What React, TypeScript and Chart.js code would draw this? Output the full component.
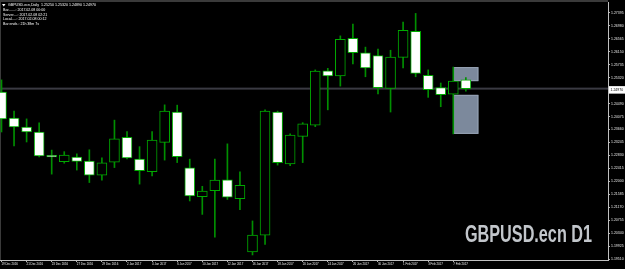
import React, { useEffect, useRef } from "react";
import { Chart, registerables } from "chart.js";

Chart.register(...registerables);

// ---- data (daily bars, GBPUSD.ecn D1) ----
const dates = [
  "19 Dec 2016", "20 Dec 2016", "21 Dec 2016", "22 Dec 2016", "23 Dec 2016",
  "26 Dec 2016", "27 Dec 2016", "28 Dec 2016", "29 Dec 2016", "30 Dec 2016",
  "2 Jan 2017", "3 Jan 2017", "4 Jan 2017", "5 Jan 2017", "6 Jan 2017",
  "9 Jan 2017", "10 Jan 2017", "11 Jan 2017", "12 Jan 2017", "13 Jan 2017",
  "16 Jan 2017", "17 Jan 2017", "18 Jan 2017", "19 Jan 2017", "20 Jan 2017",
  "23 Jan 2017", "24 Jan 2017", "25 Jan 2017", "26 Jan 2017", "27 Jan 2017",
  "30 Jan 2017", "31 Jan 2017", "1 Feb 2017", "2 Feb 2017", "3 Feb 2017",
  "6 Feb 2017", "7 Feb 2017", "8 Feb 2017",
];
const opens = [
  1.2486, 1.2403, 1.2374, 1.2358, 1.2283, 1.2263, 1.2278, 1.2265, 1.2220, 1.2261,
  1.2341, 1.2271, 1.2231, 1.2325, 1.2422, 1.2243, 1.2151, 1.2170, 1.2205, 1.2144,
  1.1974, 1.2027, 1.2422, 1.2256, 1.2344, 1.2380, 1.2554, 1.2538, 1.2658, 1.2612,
  1.2603, 1.2498, 1.2597, 1.2681, 1.2540, 1.2500, 1.2479, 1.2525,
];
const highs = [
  1.2525, 1.2425, 1.2400, 1.2387, 1.2300, 1.2295, 1.2288, 1.2301, 1.2275, 1.2396,
  1.2359, 1.2311, 1.2359, 1.2445, 1.2444, 1.2271, 1.2184, 1.2271, 1.2320, 1.2230,
  1.2073, 1.2429, 1.2425, 1.2352, 1.2388, 1.2557, 1.2562, 1.2666, 1.2704, 1.2630,
  1.2624, 1.2620, 1.2710, 1.2738, 1.2557, 1.2515, 1.2566, 1.2532,
];
const lows = [
  1.2358, 1.2313, 1.2326, 1.2278, 1.2223, 1.2258, 1.2236, 1.2196, 1.2204, 1.2244,
  1.2272, 1.2191, 1.2217, 1.2268, 1.2260, 1.2137, 1.2094, 1.2021, 1.2142, 1.2109,
  1.1964, 1.1998, 1.2252, 1.2250, 1.2260, 1.2375, 1.2429, 1.2505, 1.2576, 1.2535,
  1.2480, 1.2422, 1.2563, 1.2535, 1.2469, 1.2439, 1.2352, 1.2489,
];
const closes = [
  1.2400, 1.2374, 1.2358, 1.2281, 1.2278, 1.2284, 1.2264, 1.2220, 1.2259, 1.2336,
  1.2275, 1.2234, 1.2332, 1.2425, 1.2279, 1.2153, 1.2169, 1.2204, 1.2149, 1.2187,
  1.2028, 1.2425, 1.2260, 1.2348, 1.2384, 1.2553, 1.2538, 1.2655, 1.2612, 1.2563,
  1.2500, 1.2598, 1.2684, 1.2546, 1.2494, 1.2478, 1.2521, 1.2497,
];
const priceTicks = [
  1.1951, 1.19925, 1.2034, 1.20755, 1.2117, 1.21585, 1.22, 1.22415, 1.2283, 1.23245,
  1.2366, 1.24075, 1.2449, 1.24905, 1.2532, 1.25735, 1.2615, 1.26565, 1.2698, 1.27395,
];
const dateTickIndex = [0, 2, 4, 6, 8, 10, 12, 14, 16, 18, 20, 22, 24, 26, 28, 30, 32, 34, 36];
const currentPrice = 1.2497;
const currentPriceLabel = "1.24970";
const zoneStart = [36, 36];
const zoneEnd = [38, 38];
const zoneHigh = [1.2566, 1.2477];
const zoneLow = [1.2521, 1.2352];
const headerLines = [
  "GBPUSD.ecn,Daily  1.25250 1.25320 1.24890 1.24970",
  "Bar.......: 2017.02.08 00:00",
  "Server....: 2017.02.08 02:21",
  "Local.....: 2017.02.08 00:12",
  "Bar ends.: 21h 38m 7s",
];
const watermark = "GBPUSD.ecn D1";
const yMin = 1.19478;
const yMax = 1.27746;
const xMin = -0.1195;
const xMax = 48.327;

export default function App() {
  const ref = useRef<HTMLCanvasElement>(null);

  useEffect(() => {
    const canvas = ref.current;
    if (!canvas) return;
    const idx = dates.map((_, i) => i);

    const overlay = {
      id: "mt4overlay",
      beforeDraw(chart: any) {
        const { ctx, chartArea } = chart;
        ctx.save();
        ctx.fillStyle = "#000000";
        ctx.fillRect(0, 0, chart.width, chart.height);
        ctx.fillStyle = "#3a3a3a";
        ctx.fillRect(0, 0, chartArea.right, 2);
        ctx.restore();
      },
      beforeDatasetsDraw(chart: any) {
        const { ctx, chartArea, scales } = chart;
        const xs = scales.x;
        const ys = scales.y;
        ctx.save();
        ctx.fillStyle = "#3a3a3a";
        ctx.fillRect(0, chartArea.top, 1, chartArea.bottom - chartArea.top);
        const py = ys.getPixelForValue(currentPrice);
        ctx.fillStyle = "#3a3a42";
        ctx.fillRect(0, py - 1, chartArea.right, 2);
        for (let k = 0; k < zoneStart.length; k++) {
          const x0 = xs.getPixelForValue(zoneStart[k]);
          const x1 = xs.getPixelForValue(zoneEnd[k]);
          const y0 = ys.getPixelForValue(zoneHigh[k]);
          const y1 = ys.getPixelForValue(zoneLow[k]);
          ctx.fillStyle = "rgb(124,137,156)";
          ctx.fillRect(x0, y0, x1 - x0, y1 - y0);
          ctx.strokeStyle = "rgb(150,162,180)";
          ctx.lineWidth = 1;
          ctx.strokeRect(x0 + 0.5, y0 + 0.5, x1 - x0 - 1, y1 - y0 - 1);
        }
        ctx.font = 'bold 24px "Liberation Sans", Arial, sans-serif';
        const w = ctx.measureText(watermark).width;
        const right = chartArea.right - 16;
        const targetW = 127;
        ctx.translate(right - targetW, chartArea.bottom - 18);
        ctx.scale(targetW / w, 1);
        ctx.fillStyle = "#c2c6cb";
        ctx.textBaseline = "alphabetic";
        ctx.fillText(watermark, 0, 0);
        ctx.restore();
      },
      afterDraw(chart: any) {
        const { ctx, chartArea, scales } = chart;
        const ys = scales.y;
        ctx.save();
        ctx.fillStyle = "#ffffff";
        ctx.textBaseline = "middle";
        ctx.font = '3.6px "Liberation Sans", Arial, sans-serif';
        const lineY = [5, 10, 14.5, 19, 24];
        ctx.beginPath();
        ctx.moveTo(2, 4);
        ctx.lineTo(5.5, 4);
        ctx.lineTo(3.75, 6.5);
        ctx.closePath();
        ctx.fill();
        headerLines.forEach((t, i) => {
          ctx.fillText(t, i === 0 ? 8 : 3, lineY[i]);
        });
        const py = ys.getPixelForValue(currentPrice);
        ctx.fillStyle = "#ffffff";
        ctx.fillRect(chartArea.right + 1, py - 2.5, chart.width - chartArea.right - 1, 7.5);
        ctx.fillStyle = "#000000";
        ctx.font = '3.5px "Liberation Sans", Arial, sans-serif';
        ctx.fillText(currentPriceLabel, chartArea.right + 2.5, py + 1.3);
        ctx.restore();
      },
    };

    const chart = new Chart(canvas, {
      type: "bar",
      data: {
        datasets: [
          {
            label: "body",
            data: idx.map((i) => ({ x: i, y: [opens[i], closes[i]] })) as any,
            backgroundColor: idx.map((i) => (closes[i] < opens[i] ? "#ffffff" : "#000000")),
            borderColor: "#00aa00",
            borderWidth: 1,
            borderSkipped: false,
            barThickness: 10,
            grouped: false,
            order: 0,
          } as any,
          {
            label: "wick",
            data: idx.map((i) => ({ x: i, y: [lows[i], highs[i]] })) as any,
            backgroundColor: "#008f00",
            borderWidth: 0,
            barThickness: 1,
            grouped: false,
            order: 1,
          } as any,
        ],
      },
      plugins: [overlay],
      options: {
        responsive: false,
        animation: false,
        devicePixelRatio: 1,
        layout: { padding: { top: 2, left: 0, right: 0, bottom: 0 } },
        plugins: { legend: { display: false }, tooltip: { enabled: false } },
        scales: {
          x: {
            type: "linear",
            min: xMin,
            max: xMax,
            offset: false,
            bounds: "data",
            grid: { offset: false, drawOnChartArea: false, drawTicks: true, tickLength: 2, color: "#b8b8b8" },
            border: { display: true, color: "#c0c0c0" },
            ticks: {
              align: "start",
              autoSkip: false,
              maxRotation: 0,
              minRotation: 0,
              padding: 0,
              color: "#f0f0f0",
              font: { size: 2.9, family: '"Liberation Sans", Arial, sans-serif' },
              callback: (v: any) => dates[Math.round(Number(v))] ?? "",
            },
            afterBuildTicks: (s: any) => {
              s.ticks = dateTickIndex.map((v) => ({ value: v }));
            },
            afterFit: (s: any) => {
              s.height = 9;
              s.paddingLeft = 0;
              s.paddingRight = 0;
            },
          } as any,
          y: {
            type: "linear",
            position: "right",
            min: yMin,
            max: yMax,
            beginAtZero: false,
            bounds: "data",
            grid: { drawOnChartArea: false, drawTicks: true, tickLength: 2, color: "#b8b8b8" },
            border: { display: true, color: "#c0c0c0" },
            ticks: {
              padding: 1,
              color: "#e6e6e6",
              font: { size: 3.5, family: '"Liberation Sans", Arial, sans-serif' },
              callback: (v: any) => Number(v).toFixed(5),
            },
            afterBuildTicks: (s: any) => {
              s.ticks = priceTicks.map((v) => ({ value: v }));
            },
            afterFit: (s: any) => {
              s.width = 17;
              s.paddingTop = 0;
              s.paddingBottom = 0;
            },
          } as any,
        },
      },
    });

    return () => chart.destroy();
  }, []);

  return (
    <div style={{ position: "fixed", left: 0, top: 0, width: 625, height: 269, background: "#000" }}>
      <canvas ref={ref} width={625} height={269} style={{ display: "block", width: 625, height: 269 }} />
    </div>
  );
}
